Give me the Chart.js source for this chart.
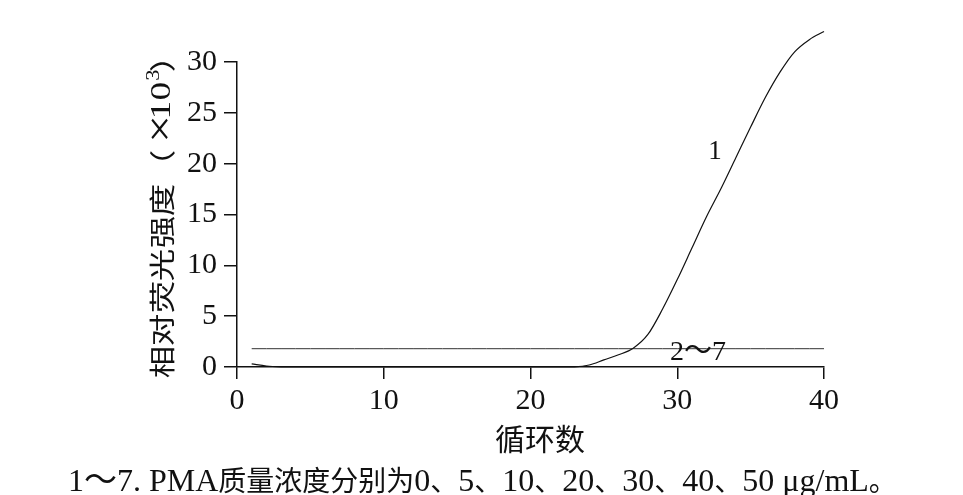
<!DOCTYPE html>
<html>
<head>
<meta charset="utf-8">
<script src="https://cdn.jsdelivr.net/npm/chart.js@4.4.1/dist/chart.umd.min.js"></script>
<style>
  html, body { margin: 0; padding: 0; background: #fff; }
  #wrap { width: 963px; height: 495px; }
</style>
</head>
<body>
<div id="wrap"><canvas id="grafico"></canvas></div>
<script>
// ciclos 1..40
var ciclos = [1, 2, 3, 4, 5, 6, 7, 8, 9, 10, 11, 12, 13, 14, 15, 16, 17, 18, 19, 20,
              21, 22, 23, 24, 25, 26, 27, 28, 29, 30, 31, 32, 33, 34, 35, 36, 37, 38, 39, 40];
// curva 1 (PMA 0 ug/mL), unidades x10^3
var curva1 = [0.3, 0.1, 0.02, 0, 0, 0, 0, 0, 0, 0, 0, 0, 0, 0, 0, 0, 0, 0, 0, 0,
              0, 0, 0.02, 0.2, 0.7, 1.2, 1.85, 3.2, 5.7, 8.6, 11.7, 14.8, 17.6, 20.6, 23.6, 26.5, 29.0, 31.0, 32.2, 33.0];
// curvas 2~7 (se superponen)
var curva2a7 = [1.8, 1.8, 1.8, 1.8, 1.8, 1.8, 1.8, 1.8, 1.8, 1.8, 1.8, 1.8, 1.8, 1.8, 1.8, 1.8, 1.8, 1.8, 1.8, 1.8,
                1.8, 1.8, 1.8, 1.8, 1.8, 1.8, 1.8, 1.8, 1.8, 1.8, 1.8, 1.8, 1.8, 1.8, 1.8, 1.8, 1.8, 1.8, 1.8, 1.8];

var ticksX = [0, 10, 20, 30, 40];
var ticksY = [0, 5, 10, 15, 20, 25, 30];

var tituloX = "循环数";
var tituloY = "相对荧光强度（×10³）";
var nota = "1～7. PMA质量浓度分别为0、5、10、20、30、40、50 μg/mL。";
var etiquetas = [
    { texto: "1", x: 32.57, y: 21.2 },
    { texto: "2～7", x: 31.42, y: 1.45 }
];

var serif = "'Liberation Serif', serif";
var cjk = "'Noto Sans CJK SC', sans-serif";

function puntos(valores) {
    return ciclos.map(function (c, i) { return { x: c, y: valores[i] }; });
}

function esCJK(ch) {
    return /[\u3000-\u303f\u4e00-\u9fff\uff00-\uffef]/.test(ch);
}

// dibuja texto mezclado: chino con fuente cjk, latin con serif
function textoMixto(ctx, texto, x, y) {
    let trozos = [];
    for (let ch of texto) {
        let tipo = ch === "～" ? "tilde" : (esCJK(ch) ? "cjk" : "lat");
        if (trozos.length && trozos[trozos.length - 1].tipo === tipo) {
            trozos[trozos.length - 1].t += ch;
        } else {
            trozos.push({ tipo: tipo, t: ch });
        }
    }
    let fuentes = { cjk: "28px " + cjk, tilde: "33px " + cjk, lat: "32px " + serif };
    ctx.textAlign = "left";
    ctx.textBaseline = "alphabetic";
    trozos.forEach(function (tr) {
        ctx.font = fuentes[tr.tipo];
        ctx.fillText(tr.t, x, y);
        x += ctx.measureText(tr.t).width;
    });
}

// titulo Y, girado; cada signo con su posicion a lo largo del eje
function tituloVertical(ctx, cx) {
    let signos = [
        { t: "相", y: 362, f: "26px " + cjk },
        { t: "对", y: 330, f: "26px " + cjk },
        { t: "荧", y: 297, f: "26px " + cjk },
        { t: "光", y: 265, f: "26px " + cjk },
        { t: "强", y: 232, f: "26px " + cjk },
        { t: "度", y: 200, f: "26px " + cjk },
        { t: "（", y: 166, f: "26px " + cjk },
        { t: "×", y: 129, f: "40px " + serif },
        { t: "1", y: 110, f: "30px " + serif },
        { t: "0", y: 91, f: "30px " + serif },
        { t: "3", y: 75, f: "18px " + serif, d: -8 },
        { t: "）", y: 56, f: "26px " + cjk }
    ];
    ctx.save();
    ctx.translate(cx, 0);
    ctx.rotate(-Math.PI / 2);
    ctx.textAlign = "center";
    ctx.textBaseline = "middle";
    signos.forEach(function (s) {
        ctx.save();
        ctx.translate(-s.y, s.d || 0);
        ctx.scale(1.25, 1);
        ctx.font = s.f;
        ctx.fillText(s.t, 0, 0);
        ctx.restore();
    });
    ctx.restore();
}

var textosPlugin = {
    id: "textos",
    afterDraw: function (chart) {
        let ctx = chart.ctx;
        let sx = chart.scales.x;
        let sy = chart.scales.y;
        ctx.save();
        ctx.fillStyle = "#111";

        ctx.textAlign = "center";
        ctx.textBaseline = "middle";
        ctx.font = "27px " + serif;
        ctx.fillText(etiquetas[0].texto, sx.getPixelForValue(etiquetas[0].x), sy.getPixelForValue(etiquetas[0].y));
        ctx.font = "28px " + serif + ", " + cjk;
        ctx.fillText(etiquetas[1].texto, sx.getPixelForValue(etiquetas[1].x), sy.getPixelForValue(etiquetas[1].y));

        ctx.font = "30px " + cjk;
        ctx.fillText(tituloX, 540, 439);

        tituloVertical(ctx, 162);

        textoMixto(ctx, nota, 68, 491);
        ctx.restore();
    }
};

var ctx = document.getElementById("grafico").getContext("2d");
var grafico = new Chart(ctx, {
    type: "line",
    data: {
        datasets: [{
            label: "1",
            data: puntos(curva1),
            borderColor: "#111",
            borderWidth: 1.2,
            pointRadius: 0,
            cubicInterpolationMode: "monotone",
            clip: false
        }, {
            label: "2～7",
            data: puntos(curva2a7),
            borderColor: "#333",
            borderWidth: 1,
            pointRadius: 0,
            clip: false
        }]
    },
    options: {
        responsive: true,
        maintainAspectRatio: false,
        animation: false,
        layout: { padding: { left: 0, top: 62, right: 139, bottom: 0 } },
        plugins: {
            legend: { display: false },
            tooltip: { enabled: false }
        },
        scales: {
            x: {
                type: "linear",
                min: 0,
                max: 40,
                afterBuildTicks: function (s) { s.ticks = ticksX.map(function (v) { return { value: v }; }); },
                afterFit: function (s) { s.height = 128; },
                border: { display: true, color: "#111", width: 1.5 },
                grid: { drawOnChartArea: false, drawTicks: true, tickLength: 12, color: "#111", lineWidth: 1.5 },
                ticks: { color: "#111", padding: 4, maxRotation: 0, font: { family: serif, size: 30 } }
            },
            y: {
                min: 0,
                max: 30,
                afterBuildTicks: function (s) { s.ticks = ticksY.map(function (v) { return { value: v }; }); },
                afterFit: function (s) { s.width = 237; },
                border: { display: true, color: "#111", width: 1.5 },
                grid: { drawOnChartArea: false, drawTicks: true, tickLength: 13, color: "#111", lineWidth: 1.5 },
                ticks: { color: "#111", padding: 7, font: { family: serif, size: 30 } }
            }
        }
    },
    plugins: [textosPlugin]
});
</script>
</body>
</html>
